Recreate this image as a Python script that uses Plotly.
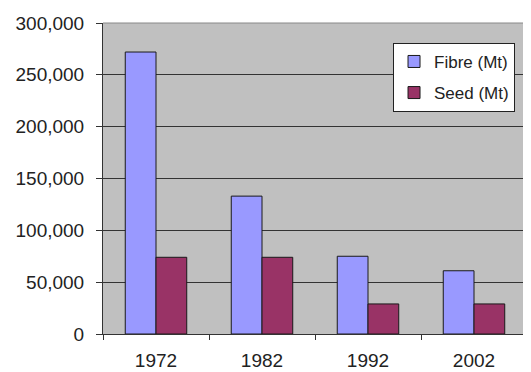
import plotly.graph_objects as go

years = ["1972", "1982", "1992", "2002"]
fibre = [272000, 133000, 75000, 61000]
seed = [74000, 74000, 29000, 29000]
y_ticks = [0, 50000, 100000, 150000, 200000, 250000, 300000]
y_labels = ["0", "50,000", "100,000", "150,000", "200,000", "250,000", "300,000"]

font = dict(family="Liberation Sans, Arial, sans-serif", size=19, color="#222222")

fig = go.Figure()
fig.add_trace(go.Bar(name="Fibre (Mt)", x=years, y=fibre, legendgroup="fibre",
                     marker=dict(color="#9999FF", line=dict(color="#1a1a1a", width=1))))
fig.add_trace(go.Bar(name="Seed (Mt)", x=years, y=seed, legendgroup="seed",
                     marker=dict(color="#993366", line=dict(color="#1a1a1a", width=1))))

fig.update_layout(
    width=523, height=364,
    margin=dict(l=95, r=4, t=15, b=38),
    paper_bgcolor="white", plot_bgcolor="#C0C0C0",
    barmode="group", bargap=0.42, bargroupgap=0,
    font=font,
    showlegend=True,
    legend=dict(x=0.684, y=0.936, xanchor="left", yanchor="top",
                bgcolor="white", bordercolor="#222222", borderwidth=1,
                font=dict(family="Liberation Sans, Arial, sans-serif", size=17, color="#222222"),
                itemwidth=30, tracegroupgap=6),
    xaxis=dict(type="category", showline=True, linecolor="#333333", linewidth=1,
               ticks="outside", tickson="boundaries", ticklen=5, tickcolor="#333333",
               showgrid=False, zeroline=False, ticklabelstandoff=9, automargin=False),
    yaxis=dict(range=[0, 300000], tickvals=y_ticks, ticktext=y_labels,
               showline=True, linecolor="#333333", linewidth=1,
               ticks="outside", ticklen=6, tickcolor="#333333",
               showgrid=True, gridcolor="#333333", gridwidth=1, zeroline=False,
               ticklabelstandoff=8, automargin=False),
    shapes=[dict(type="line", xref="paper", yref="paper", x0=0, x1=1, y0=1, y1=1,
                 line=dict(color="#888888", width=1)),
            dict(type="line", xref="paper", yref="paper", x0=1, x1=1, y0=0, y1=1,
                 line=dict(color="#888888", width=1))],
)

fig.write_html("out.html")
